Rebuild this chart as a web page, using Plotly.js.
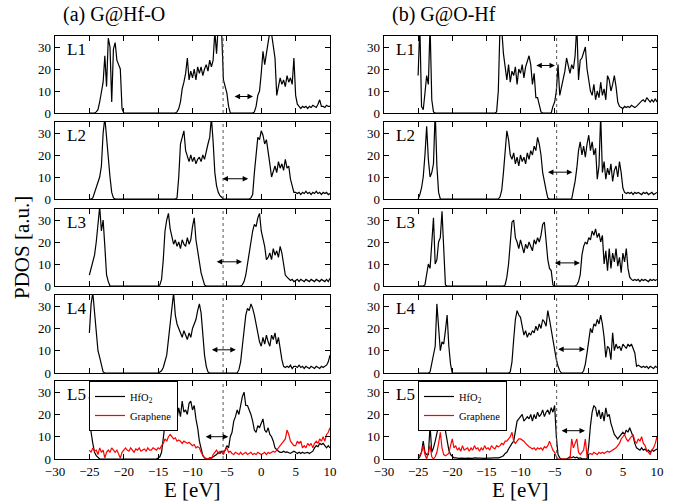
<!DOCTYPE html>
<html><head><meta charset="utf-8">
<script src="https://cdn.plot.ly/plotly-3.0.1.min.js"></script>
<style>html,body{margin:0;padding:0;background:#fff}#chart{width:678px;height:502px}</style>
</head><body><div id="chart"></div>
<script>
// Energy grid: -25 eV to 10 eV, 0.25 eV step (141 points)
const E_START = -25, E_STEP = 0.25;

// ---------- (a) G@Hf-O : HfO2 PDOS per layer ----------
const a_L1 = [
 0,0,0,0, 0.5,1.5,5,10, 14,26,12,34, 30,5,29,32, 24,22,20,2,
 0,0,0,0, 0,0,0,0, 0,0,0,0, 0,0,0,0, 0,0,0,0, 0,0,0,0, 0,0,0,0,
 0,0,0,0.5, 2,5,11,14, 18,25,15,19, 16,20,15,21, 18,21,17,20, 22,19,24,21,
 24,37,27,40, 38,36,15,12, 9,3,0,0, 0,0,0,0, 0,0,0,0, 0,0,0,0,
 0.5,3,8,10, 18,28,22,27, 31,37,36,30, 25,8,12,16, 13,15,12,17, 14,16,13,25,
 8,4,3,2, 3,2.5,3,2, 3,2.5,3.5,3, 2.5,4,6,3, 3,2.5,3.5,3, 3];
const a_L2 = [
 0,0,0.5,3, 6,8,10,15, 30,37,27,20, 10,3,0.5,0, 0,0,0,0,
 0,0,0,0, 0,0,0,0, 0,0,0,0, 0,0,0,0, 0,0,0,0, 0,0,0,0, 0,0,0,0,
 0,0,0,0.5, 10,25,28,31, 22,19,17,20, 17,19,16,18, 19,17,20,18, 22,25,28,37,
 26,12,6,3, 1.5,0.5,0,0, 0,0,0,0, 0,0,0,0, 0,0,0,0, 0,0,0.5,2,
 12,22,28,27, 31,29,25,27, 20,16,10,13, 15,12,17,14, 16,13,18,14, 15,9,6,3,
 3,2.5,3,2, 3,2.5,3.5,2.5, 3,2,3,2.5, 3.5,2.5,3,2, 3,2.5,3,2, 2.5];
const a_L3 = [
 5,8,10,14, 20,30,36,25, 30,18,5,2, 0,0,0,0, 0,0,0,0,
 0,0,0,0, 0,0,0,0, 0,0,0,0, 0,0,0,0, 0,0,0,0, 0,0.5,3,12,
 25,30,33,26, 22,19,21,18, 20,17,21,19, 18,22,19,21, 27,31,21,15, 11,6,3,0.5,
 0,0,0,0, 0,0,0,0, 0,0,0,0, 0,0,0,0, 0,0,0,0, 0,0.5,2,5,
 10,15,22,25, 28,27,31,33, 25,22,18,12, 13,15,12,17, 14,16,13,18, 15,10,5,4,
 3,2.5,3,2, 2.5,3,2,3, 2.5,2,3,2.5, 2,3,2.5,2, 3,2.5,2,3, 2.5,2,3,2, 3.5];
const a_L4 = [
 18,31,36,27, 19,10,7,3, 0.5,0,0,0, 0,0,0,0, 0,0,0,0,
 0,0,0,0, 0,0,0,0, 0,0,0,0, 0,0,0,0, 0,0,0,0, 0,0.5,1,2.5,
 5,8,15,22, 30,36,26,22, 20,18,16,19, 17,15,18,16, 20,22,24,28, 31,27,18,8,
 3,0.5,0,0, 0,0,0,0, 0,0,0,0, 0,0,0,0, 0,0,0,1.5, 5,12,20,26,
 29,28,31,29, 26,22,18,14, 12,16,13,17, 14,12,17,15, 18,13,16,10, 6,3,2.5,3,
 2.5,3.5,2,3, 3,2.5,3.5,2.5, 3,2,3,2.5, 2,3,2.5,2, 3,2.5,2,3, 2.5,3,3.5,5, 8];
const a_L5_hfo2 = [
 28,12,7,3, 1.5,0.5,0,0, 0,0,0,0, 0,0,0,0, 0,0,0,0,
 0,0,0,0, 0,0,0,0, 0,0,0,0, 0,0,0,0, 0,0,0,0, 0.5,1,3,10,
 18,22,24,20, 22,26,20,18, 23,19,26,21, 22,20,25,26, 22,24,18,14, 8,4,1.5,0.5,
 0,0,0.5,0.5, 1,1.5,2,3, 2.5,3.5,3,4, 6,5,10,12, 17,19,22,20, 25,28,30,24,
 24,22,20,17, 13,12,15,14, 16,18,13,12, 14,11,10,8, 5,4,3.5,3, 3,3.5,3,3.2,
 3,2.5,3,3.5, 3,2.5,3,2.5, 3,2.5,2.8,3, 2.5,3,3.5,5, 6,5.5,7,6.5, 7,6,5,6, 5];
const a_L5_graphene = [
 4,3,5,3.5, 4,2,5,3, 4,0.5,3,4, 3,5,4,3, 4,2.5,0.5,3,
 4,5,4,3.5, 5,4,3,4.5, 4,5,3.5,4, 4.5,3.5,5,4, 4,5,4.5,4, 5,4.5,6,7,
 9,8,10,11, 10,9,9.5,8, 8.5,8,7,8, 7.5,7,7.5,6.5, 6,6.5,5,5.5, 5,3,1.5,0.5,
 0.3,0,0.5,0, 2,3,4,2.5, 3.5,3,2,4, 5,3,3.5,2.5, 2,3,2.5,2, 3,2,2.5,3,
 2,2.5,3,2, 2.5,2,3,2.5, 2,2.5,3,2, 3,2.5,3,3.5, 3,4,5,6, 7,8,9,13,
 11,8,7,6, 6,8,7,8, 5,6,5,7, 6,7,5,7, 8,7,9,8, 10,8,11,12, 14];

// ---------- (b) G@O-Hf : HfO2 PDOS per layer ----------
const b_L1 = [
 17,40,3,1.5, 9,17,13,40, 6,0.5,0,0, 0,0,0,0, 0,0,0,0,
 0,0,0,0, 0,0,0,0, 0,0,0,0, 0,0,0,0, 0,0,0,0, 0,0,0,0,
 0,0,0.5,10, 40,38,27,20, 15,22,14,19, 17,21,13,20, 18,22,16,21, 24,26,22,13,
 18,7,7,3, 0.5,0,0,0, 0,0,0,3, 5,10,22,8, 12,15,19,25, 21,18,22,20,
 26,40,15,24, 25,28,30,20, 14,10,8,13, 6,10,7,14, 8,11,6,17, 15,10,13,17,
 12,5,3,2.5, 2,3,2.5,3, 2.5,3.5,3,2.5, 3,4,5,5.5, 6,5,7,6, 5,6,5,6.5, 5];
const b_L2 = [
 0,2,5,10, 20,33,18,10, 12,16,40,15, 3,0,0,0, 0,0,0,0,
 0,0,0,0, 0,0,0,0, 0,0,0,0, 0,0,0,0, 0,0,0,0, 0,0,0,0,
 0,0,0,0, 1,4,12,22, 31,27,20,18, 21,16,19,15, 20,17,19,16, 21,18,22,20,
 24,22,28,25, 20,12,7,4, 0.5,0,0,0, 0,0,0,0, 0,0,0,0, 0,0,0,4,
 8,14,22,26, 20,24,19,25, 29,22,26,20, 23,9,15,38, 12,17,9,14, 11,16,8,13,
 15,10,17,12, 5,3,2.5,3, 2.5,3,2,3, 2.5,3,2.5,2, 3,2.5,3,2, 2.5,3,2,2.5, 3];
const b_L3 = [
 0,0,0,0, 0.5,5,10,8, 20,31,10,12, 20,22,34,15, 0.5,0,0,0,
 0,0,0,0, 0,0,0,0, 0,0,0,0, 0,0,0,0, 0,0,0,0, 0,0,0,0,
 0,0,0,0, 0,0,0,0.5, 4,10,20,29, 30,22,20,17, 21,18,15,19, 17,20,18,16,
 21,19,22,20, 23,28,29,20, 12,8,7,0.5, 0,0,0,0, 0,0,0,0, 0,0,0,0,
 0,0.5,2,5, 14,18,20,19, 22,21,25,23, 26,22,24,20, 23,10,16,7, 17,8,15,11,
 17,9,13,6, 15,11,17,8, 4,3,2.5,3, 2.5,3,2,3, 2.5,3,2.5,2, 3,2.5,3,2.5, 3];
const b_L4 = [
 0,0,0,0, 0,0,0,0.5, 5,9,12,31, 20,10,14,13, 19,26,12,4,
 0,0,0,0, 0,0,0,0, 0,0,0,0, 0,0,0,0, 0,0,0,0, 0,0,0,0,
 0,0,0,0, 0,0,0,0, 0,0,0.5,5, 15,24,28,26, 25,20,17,19, 16,18,17,19,
 18,21,19,22, 20,24,23,21, 28,24,19,14, 10,6,3,1, 0,0,0,0, 0,0,0,0,
 0,0,0,0, 0,1,4,9, 15,20,18,22, 21,24,22,26, 22,16,7,12, 11,6,18,10,
 13,11,12,10, 13,12,11,13, 12,13,11,9, 3,3.5,3,2.5, 3,2.5,3,2, 3,2.5,2,3, 2.5];
const b_L5_hfo2 = [
 0,1,3,8, 3,2,2,15, 3,5,8,12, 15,17,14,17, 12,8,4,2,
 1,0.5,0.5,0.3, 0.3,0.4,0.3,0.5, 0.3,0.4,0.3,0.4, 0.3,0.5,0.3,0.4, 0.4,0.3,0.5,0.3, 0.4,0.3,0.5,0.4,
 0.5,0.4,0.6,0.5, 0.7,1,1.5,2.5, 3,4.5,6,7, 8,12,17,18, 19,20,17,18, 19,18,20,17,
 20,18,21,19, 20,22,19,21, 22,20,23,21, 24,10,2,0.5, 0,0,0,0, 0.5,1,0.5,1,
 0.5,0.8,0.3,0.5, 0.2,0.3,0.1,0, 6,15,21,24, 23,19,22,18, 21,17,23,19, 20,16,13,11,
 10,9,10,11, 12,11,13,12, 14,12,10,7, 5,4.5,4,5, 4,4.5,3.5,4, 3,4,3.5,4, 4.5];
const b_L5_graphene = [
 0.5,2,3,6, 2,0,3,6, 1,0,1,3, 7,12,5,2, 1.5,2,2.5,6,
 9,5,6,4, 5,3.5,6,4, 4.5,5,3.5,5, 4,6,4.5,5, 3.5,5,4,6, 4.5,5,4,6,
 5,4.5,6,5.5, 6,7,6.5,8, 8,9,10,12, 8,7,8,9, 9,8.5,8,7, 6,5.5,5,4.5,
 5,4,5,4.5, 5,4,5.5,5, 6,8,6,4, 3,1,0,0, 0,0,0,0, 0,0,9,5,
 7,9,3,2, 3,4,9,1, 2,2.5,2,3, 2.5,2,3,2.5, 3,2.5,3,3.5, 3,3.5,4,4.5,
 5,6,7,9, 10,11,9,8, 9,10,11,8, 7,9,8,10, 7,6,4,3, 2,4,5,7, 10];

// ---------- annotations data ----------
const layerLabels = ['L1','L2','L3','L4','L5'];
const panelTitles = ['(a) G@Hf-O', '(b) G@O-Hf'];
const fermiLevel = [-5.55, -4.7];           // dotted line, eV
const gapFrom = [[-4.1,-5.85,-6.7,-7.4,-8.3], [-7.9,-6.2,-5.2,-4.7,-4.2]];
const gapTo   = [[-1.2,-1.9,-2.8,-3.7,-4.8], [-4.95,-2.4,-1.3,-0.55,-0.55]];
const gapY    = [[7.5,9.2,11,10.4,10], [21.6,12.2,10.5,10.7,12.7]];
const xTicks = [-30,-25,-20,-15,-10,-5,0,5,10];
const yTicks = [0,10,20,30];

const hfo2Series = [[a_L1,a_L2,a_L3,a_L4,a_L5_hfo2],[b_L1,b_L2,b_L3,b_L4,b_L5_hfo2]];
const grapheneSeries = [a_L5_graphene, b_L5_graphene];

const energy = a_L1.map((_, i) => E_START + i * E_STEP);

// ---------- layout geometry (pixels) ----------
const W = 678, H = 502;
const colPx = [[55,330],[384,657]];
const rowPx = [[36,113],[122,199],[209,286],[295,373],[381,459]];
const FONT = 'Liberation Serif, Times New Roman, serif';

const traces = [];
const layout = {
  width: W, height: H,
  margin: {l:0, r:0, t:0, b:0},
  paper_bgcolor: '#fff', plot_bgcolor: '#fff',
  font: {family: FONT, color: '#000', size: 13},
  showlegend: true,
  annotations: [], shapes: []
};

for (let c = 0; c < 2; c++) {
  for (let r = 0; r < 5; r++) {
    const p = r * 2 + c + 1;
    const xs = p === 1 ? 'x' : 'x' + p;
    const ys = p === 1 ? 'y' : 'y' + p;
    const xk = p === 1 ? 'xaxis' : 'xaxis' + p;
    const yk = p === 1 ? 'yaxis' : 'yaxis' + p;
    const isLast = r === 4;
    const legendId = c === 0 ? 'legend' : 'legend2';
    traces.push({
      x: energy, y: hfo2Series[c][r], xaxis: xs, yaxis: ys,
      type: 'scatter', mode: 'lines', name: 'HfO<sub>2</sub>',
      line: {color: '#000', width: 1.2},
      showlegend: isLast, legend: legendId, hoverinfo: 'skip'
    });
    if (isLast) {
      traces.push({
        x: energy, y: grapheneSeries[c], xaxis: xs, yaxis: ys,
        type: 'scatter', mode: 'lines', name: 'Graphene',
        line: {color: '#ff0000', width: 1.2},
        showlegend: true, legend: legendId, hoverinfo: 'skip'
      });
    }
    layout[xk] = {
      domain: [colPx[c][0] / W, colPx[c][1] / W],
      anchor: ys, range: [-30, 10], tickvals: xTicks,
      ticks: 'inside', ticklen: 5, tickwidth: 1, tickcolor: '#000',
      showticklabels: isLast, tickfont: {size: 13},
      showline: true, linecolor: '#000', linewidth: 1.3, mirror: 'allticks',
      showgrid: false, zeroline: false
    };
    layout[yk] = {
      domain: [1 - rowPx[r][1] / H, 1 - rowPx[r][0] / H],
      anchor: xs, range: [0, 35], tickvals: yTicks,
      ticks: 'inside', ticklen: 5, tickwidth: 1, tickcolor: '#000',
      showticklabels: true, tickfont: {size: 13},
      showline: true, linecolor: '#000', linewidth: 1.3, mirror: 'allticks',
      showgrid: false, zeroline: false
    };
    // dotted Fermi level line
    layout.shapes.push({
      type: 'line', xref: xs, yref: ys + ' domain',
      x0: fermiLevel[c], x1: fermiLevel[c], y0: 0, y1: 1,
      line: {color: '#555', width: 1, dash: 'dot'}
    });
    // gap arrow
    layout.annotations.push({
      xref: xs, yref: ys, axref: xs, ayref: ys,
      x: gapTo[c][r], y: gapY[c][r], ax: gapFrom[c][r], ay: gapY[c][r],
      text: '', showarrow: true, arrowside: 'end+start',
      arrowhead: 2, startarrowhead: 2, arrowsize: 1.1, startarrowsize: 1.1,
      arrowwidth: 1, arrowcolor: '#000', standoff: 0, startstandoff: 0
    });
    // layer label
    layout.annotations.push({
      xref: xs + ' domain', yref: ys + ' domain', x: 0.035, y: 0.97,
      xanchor: 'left', yanchor: 'top', showarrow: false,
      text: layerLabels[r], font: {size: 17}
    });
  }
  // column title
  layout.annotations.push({
    xref: 'paper', yref: 'paper', x: (c === 0 ? 61 : 390) / W, y: 1 - 15 / H,
    xanchor: 'left', yanchor: 'middle', showarrow: false,
    text: panelTitles[c], font: {size: 20}
  });
  // x axis title
  layout.annotations.push({
    xref: 'paper', yref: 'paper', x: (colPx[c][0] + colPx[c][1]) / 2 / W, y: 1 - 490 / H,
    xanchor: 'center', yanchor: 'middle', showarrow: false,
    text: 'E [eV]', font: {size: 21}
  });
}
// y axis title
layout.annotations.push({
  xref: 'paper', yref: 'paper', x: 22 / W, y: 1 - 248 / H,
  xanchor: 'center', yanchor: 'middle', showarrow: false, textangle: -90,
  text: 'PDOS [a.u.]', font: {size: 21}
});

const legendStyle = {
  yanchor: 'top', xanchor: 'left', y: 1 - 381 / H,
  bgcolor: '#fff', bordercolor: '#000', borderwidth: 1,
  font: {size: 10.5, family: FONT}, tracegroupgap: 0, itemwidth: 30
};
layout.legend = Object.assign({}, legendStyle, {x: 89 / W});
layout.legend2 = Object.assign({}, legendStyle, {x: 418 / W});

Plotly.newPlot('chart', traces, layout, {staticPlot: true, displayModeBar: false});
</script>
</body></html>
